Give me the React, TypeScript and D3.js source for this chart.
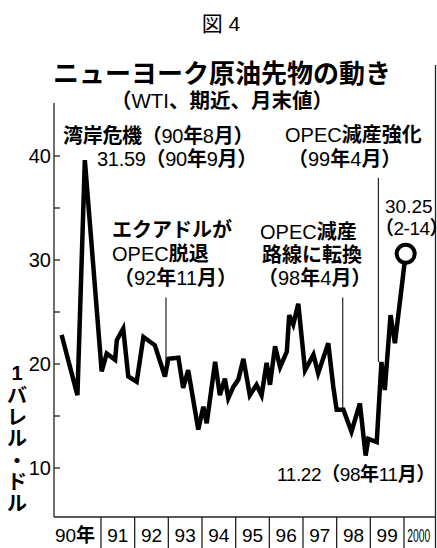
import * as d3 from "d3";

const W = 437;
const H = 548;

// time (decimal year) and month-end price, $/bbl
const dates = [
  1989.83, 1990.3, 1990.52, 1991.02, 1991.17, 1991.42, 1991.47, 1991.66, 1991.81,
  1992.06, 1992.26, 1992.6, 1992.9, 1993.0, 1993.3, 1993.44, 1993.59, 1993.89,
  1994.04, 1994.14, 1994.39, 1994.53, 1994.68, 1994.78, 1994.93, 1995.08, 1995.23,
  1995.42, 1995.62, 1995.77, 1995.92, 1996.02, 1996.17, 1996.32, 1996.52, 1996.59,
  1996.71, 1996.86, 1997.06, 1997.31, 1997.45, 1997.75, 1997.9, 1998.0, 1998.2,
  1998.44, 1998.69, 1998.86, 1998.94, 1999.19, 1999.33, 1999.43, 1999.6, 1999.73,
  2000.05,
];
const prices = [
  22.8, 17.0, 39.6, 19.3, 21.0, 20.4, 22.3, 23.4, 18.8,
  18.3, 22.6, 21.8, 18.8, 20.5, 20.6, 17.7, 19.4, 13.7,
  15.9, 14.3, 20.2, 17.0, 18.6, 16.7, 17.8, 18.5, 20.5,
  17.0, 18.0, 17.0, 20.1, 18.0, 21.7, 19.7, 21.2, 24.7,
  23.8, 25.8, 19.4, 20.9, 19.1, 22.0, 17.8, 15.6, 15.6,
  13.5, 16.2, 11.2, 12.8, 12.5, 20.2, 17.5, 24.7, 22.0,
  30.6,
];

const yTicks = [10, 20, 30, 40];
const yMinor = [15, 25, 35];
const years = [1991, 1992, 1993, 1994, 1995, 1996, 1997, 1998, 1999, 2000];
const yearLabels = ["90年", "91", "92", "93", "94", "95", "96", "97", "98", "99", "2000"];

// annotation leader lines: date, top value, bottom value
const leaderDates = [1992.93, 1998.18, 1999.24];
const leaderTops = [26.4, 26.4, 37.9];
const leaderBottoms = [19.0, 15.4, 20.2];

const yLabelChars = ["1", "バ", "レ", "ル", "・", "ド", "ル"];

const FONT = "'Liberation Sans', Arial, 'Noto Sans CJK JP', sans-serif";

// Latin in regular weight, Japanese in bold, like the newspaper setting
const Mixed = ({ x, y, text, size = 20, anchor = "start", spacing = 0 }) => {
  const runs = text.match(/[\x00-\x7F]+|[^\x00-\x7F]+/g) || [];
  return (
    <text
      x={x}
      y={y}
      fontSize={size}
      textAnchor={anchor}
      fontFamily={FONT}
      letterSpacing={spacing}
      fill="#000"
    >
      {runs.map((r, i) => (
        <tspan key={i} fontWeight={/[\x00-\x7F]/.test(r) ? "normal" : "bold"}>
          {r}
        </tspan>
      ))}
    </text>
  );
};

export default function App() {
  const left = 54;
  const right = 435.5;
  const bottom = 517;

  const x = d3.scaleLinear().domain([1991, 2000]).range([101, 404]);
  const y = d3.scaleLinear().domain([10, 40]).range([468, 156]);

  const pts = dates.map((d, i) => [x(d), y(prices[i])]);
  const line = d3.line().curve(d3.curveLinear);
  const last = pts[pts.length - 1];

  const bounds = [left, ...years.map((d) => x(d)), right];

  return (
    <svg
      width={W}
      height={H}
      style={{ position: "absolute", left: 0, top: 0, background: "#fff" }}
    >
      <rect width={W} height={H} fill="#fff" />

      {/* headings */}
      <text x={221} y={31} fontSize={21} textAnchor="middle" fontFamily={FONT}>
        図 4
      </text>
      <text
        x={222}
        y={83}
        fontSize={26}
        fontWeight="bold"
        textAnchor="middle"
        fontFamily={FONT}
      >
        ニューヨーク原油先物の動き
      </text>
      <Mixed x={222} y={108} text="（WTI、期近、月末値）" size={20.5} anchor="middle" />

      {/* frame */}
      <g stroke="#222" strokeWidth={1.3} fill="none">
        <line x1={left} x2={left} y1={103} y2={bottom} />
        <line x1={left} x2={right} y1={bottom} y2={bottom} />
        <line x1={right} x2={right} y1={65} y2={H} />
        {years.map((d) => (
          <line key={d} x1={x(d)} x2={x(d)} y1={bottom} y2={H} />
        ))}
        {[...yTicks, ...yMinor].map((t) => (
          <line key={t} x1={left} x2={left + 6} y1={y(t)} y2={y(t)} />
        ))}
      </g>

      {yTicks.map((t) => (
        <text
          key={t}
          x={51}
          y={y(t)}
          dy="0.36em"
          fontSize={20}
          textAnchor="end"
          fontFamily={FONT}
        >
          {t}
        </text>
      ))}

      {yearLabels.map((l, i) => {
        const cx = (bounds[i] + bounds[i + 1]) / 2;
        if (l === "2000") {
          return (
            <text
              key={l}
              x={cx - 1}
              y={542}
              fontSize={19}
              textAnchor="middle"
              fontFamily={FONT}
              textLength={23}
              lengthAdjust="spacingAndGlyphs"
            >
              {l}
            </text>
          );
        }
        return <Mixed key={l} x={i === 0 ? 75 : cx} y={542} text={l} size={19} anchor="middle" />;
      })}

      {/* vertical unit label */}
      {yLabelChars.map((c, i) => (
        <text
          key={i}
          x={17}
          y={i === 0 ? 380 : 403 + (i - 1) * 21.5}
          fontSize={20}
          fontWeight="bold"
          textAnchor="middle"
          fontFamily={FONT}
        >
          {c}
        </text>
      ))}

      {/* leader lines */}
      <g stroke="#222" strokeWidth={1.2}>
        {leaderDates.map((d, i) => (
          <line
            key={d}
            x1={x(d)}
            x2={x(d)}
            y1={y(leaderTops[i])}
            y2={y(leaderBottoms[i])}
          />
        ))}
      </g>

      {/* price line */}
      <path d={line(pts)} fill="none" stroke="#000" strokeWidth={4.5} />
      <circle cx={last[0]} cy={last[1]} r={9} fill="#fff" stroke="#000" strokeWidth={4} />

      {/* annotations */}
      <Mixed x={63} y={143} text="湾岸危機（90年8月）" size={20} spacing={-0.3} />
      <Mixed x={97} y={166} text="31.59（90年9月）" size={20} spacing={-0.3} />
      <Mixed x={285} y={142} text="OPEC減産強化" size={20} />
      <Mixed x={288} y={166} text="（99年4月）" size={20} />
      <Mixed x={112} y={237} text="エクアドルが" size={20} />
      <Mixed x={112} y={261} text="OPEC脱退" size={20} />
      <Mixed x={114} y={285} text="（92年11月）" size={20} />
      <Mixed x={260} y={239} text="OPEC減産" size={20} />
      <Mixed x={262} y={262} text="路線に転換" size={20} />
      <Mixed x={258} y={285} text="（98年4月）" size={20} />
      <Mixed x={385} y={213} text="30.25" size={19} />
      <Mixed x={375} y={235} text="（2-14）" size={19} spacing={-0.5} />
      <Mixed x={277} y={481} text="11.22（98年11月）" size={19} spacing={-0.4} />
    </svg>
  );
}
